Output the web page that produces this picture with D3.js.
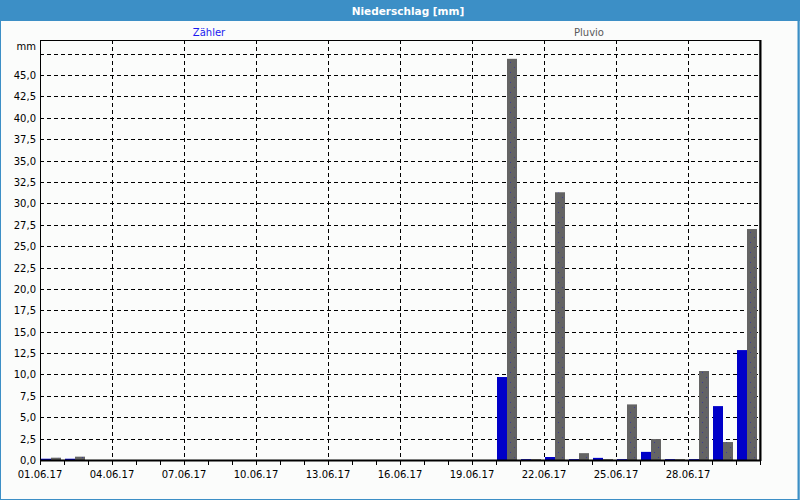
<!DOCTYPE html>
<html><head><meta charset="utf-8">
<script src="https://cdn.jsdelivr.net/npm/d3@7"></script>
<style>
html,body{margin:0;padding:0;background:#fbfcfb;}
svg{display:block;}
text{font-family:"DejaVu Sans",Verdana,sans-serif;}
</style></head>
<body>
<svg id="chart" width="800" height="500"></svg>
<script>
const days = d3.range(1, 31).map(d => String(d).padStart(2, "0") + ".06.17");
const seriesNames = ["Zähler", "Pluvio"];
const zaehler = [0.15,0.15,0,0,0,0,0,0,0,0,0,0,0,0,0,0,0,0,0,9.7,0.1,0.35,0.1,0.25,0.1,0.95,0.1,0.1,6.3,12.85];
const pluvio  = [0.27,0.39,0,0,0,0,0,0,0,0,0,0,0,0,0,0,0,0,0,46.9,0.1,31.3,0.8,0.1,6.5,2.45,0.1,10.4,2.1,27.0];
const yTicks = [0,2.5,5,7.5,10,12.5,15,17.5,20,22.5,25,27.5,30,32.5,35,37.5,40,42.5,45];
const yGrid = [2.5,5,7.5,10,12.5,15,17.5,20,22.5,25,27.5,30,32.5,35,37.5,40,42.5,45,47.5];
const xLabelDays = ["01.06.17","04.06.17","07.06.17","10.06.17","13.06.17","16.06.17","19.06.17","22.06.17","25.06.17","28.06.17"];
const colors = {"Zähler":"#0000c8","Pluvio":"#646464"};
const title = "Niederschlag [mm]";
const unit = "mm";

const W = 800, H = 500;
const m = {left:40, right:40, top:40, bottom:40};
const svg = d3.select("#chart");

// frame
svg.append("rect").attr("x",0).attr("y",0).attr("width",W).attr("height",H).attr("fill","#fbfcfb");
svg.append("rect").attr("x",0).attr("y",0).attr("width",W).attr("height",21).attr("fill","#3c8fc6");
svg.append("rect").attr("x",0.5).attr("y",0.5).attr("width",W-1.5).attr("height",H-1).attr("fill","none").attr("stroke","#3c8fc6").attr("stroke-width",1);
svg.append("line").attr("x1",W-1.5).attr("x2",W-1.5).attr("y1",0).attr("y2",H).attr("stroke","#3c8fc6").attr("stroke-width",2);
svg.append("text").attr("x",408).attr("y",14.5).attr("text-anchor","middle")
  .attr("fill","#fff").attr("font-weight","bold").attr("font-size","10.5px").text(title);

// pattern for Pluvio bars
const defs = svg.append("defs");
const pat = defs.append("pattern").attr("id","dots").attr("patternUnits","userSpaceOnUse")
  .attr("width",10).attr("height",10);
pat.append("rect").attr("width",10).attr("height",10).attr("fill",colors["Pluvio"]);
pat.append("rect").attr("x",3).attr("y",2).attr("width",1).attr("height",1).attr("fill","#3a3a9a");
pat.append("rect").attr("x",7).attr("y",7).attr("width",1).attr("height",1).attr("fill","#3a3a9a");

const x0 = d3.scaleBand().domain(days).range([m.left-1, W-m.right-1]).paddingInner(1/6).paddingOuter(1/12);
const step = x0.step();
const x1 = d3.scaleBand().domain(seriesNames).range([0, x0.bandwidth()]);
const y = d3.scaleLinear().domain([0, 49.1]).range([H-m.bottom, m.top]);
const dayX = d => m.left + days.indexOf(d) * step; // left boundary of day

const g = svg.append("g");

// horizontal grid
g.selectAll("line.hg").data(yGrid).join("line")
  .attr("x1",m.left).attr("x2",W-m.right)
  .attr("y1",d=>Math.round(y(d))+0.5).attr("y2",d=>Math.round(y(d))+0.5)
  .attr("stroke","#000").attr("stroke-dasharray","4,3");
// vertical grid
g.selectAll("line.vg").data(xLabelDays.slice(1)).join("line")
  .attr("x1",d=>dayX(d)+0.5).attr("x2",d=>dayX(d)+0.5)
  .attr("y1",m.top).attr("y2",H-m.bottom)
  .attr("stroke","#000").attr("stroke-dasharray","4,3");

// bars
const rows = days.map((d,i)=>({day:d, vals:[{k:"Zähler",v:zaehler[i]},{k:"Pluvio",v:pluvio[i]}]}));
const grp = g.selectAll("g.day").data(rows).join("g").attr("transform",d=>`translate(${x0(d.day)},0)`);
grp.selectAll("rect").data(d=>d.vals.filter(e=>e.v>0)).join("rect")
  .attr("x",d=>x1(d.k)).attr("width",x1.bandwidth())
  .attr("y",d=>y(d.v)).attr("height",d=>y(0)-y(d.v))
  .attr("fill",d=>d.k==="Pluvio"?"url(#dots)":colors[d.k]);

// plot frame
svg.append("rect").attr("x",m.left+0.5).attr("y",m.top+0.5).attr("width",W-m.left-m.right-0.5).attr("height",H-m.top-m.bottom)
  .attr("fill","none").attr("stroke","#000").attr("stroke-width",1);
svg.append("line").attr("x1",W-m.right+0.5).attr("x2",W-m.right+0.5).attr("y1",m.top).attr("y2",H-m.bottom+1).attr("stroke","#000").attr("stroke-width",2);
svg.append("line").attr("x1",m.left).attr("x2",W-m.right+1).attr("y1",H-m.bottom+0.5).attr("y2",H-m.bottom+0.5).attr("stroke","#000").attr("stroke-width",2);

// x ticks (day boundaries)
const tickDays = d3.range(0, 31);
svg.selectAll("line.xt").data(tickDays).join("line")
  .attr("x1",i=>m.left+i*step+0.5).attr("x2",i=>m.left+i*step+0.5)
  .attr("y1",H-m.bottom).attr("y2",H-m.bottom+5).attr("stroke","#000");
// x labels
svg.selectAll("text.xl").data(xLabelDays).join("text")
  .attr("x",d=>dayX(d)).attr("y",H-m.bottom+18).attr("text-anchor","middle")
  .attr("font-size","10px").attr("fill","#000").text(d=>d);

// y labels
svg.selectAll("text.yl").data(yTicks).join("text")
  .attr("x",m.left-4).attr("y",d=>y(d)+4).attr("text-anchor","end")
  .attr("font-size","10px").attr("fill","#000").text(d=>d3.format(".1f")(d).replace(".",","));
svg.append("text").attr("x",m.left-4).attr("y",50).attr("text-anchor","end").attr("font-size","10px").text(unit);

// series labels
svg.append("text").attr("x",209).attr("y",36).attr("text-anchor","middle").attr("font-size","10px").attr("fill","#1a1af0").text("Zähler");
svg.append("text").attr("x",589).attr("y",36).attr("text-anchor","middle").attr("font-size","10px").attr("fill","#5a5a5a").text("Pluvio");
</script>
</body></html>
